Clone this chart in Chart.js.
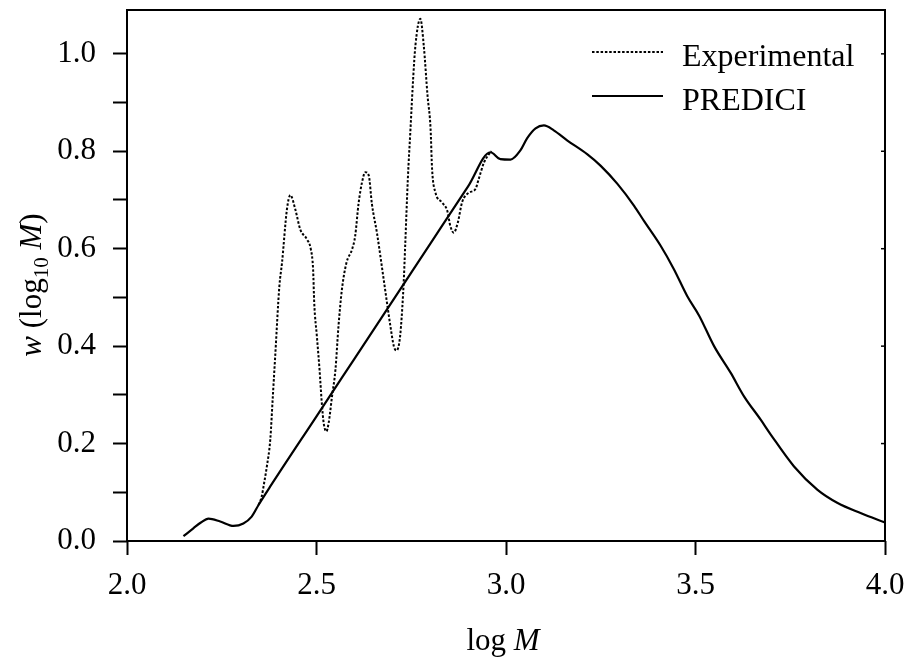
<!DOCTYPE html>
<html>
<head>
<meta charset="utf-8">
<script src="https://cdn.jsdelivr.net/npm/chart.js@4.4.0/dist/chart.umd.min.js"></script>
<style>
  body { margin: 0; background: #fff; }
</style>
</head>
<body>
<canvas id="gpc_chart" width="908" height="659"></canvas>
<script>
// PREDICI simulation (log M vs w)
const prediciLogM = [2.149, 2.175, 2.195, 2.215, 2.246, 2.281, 2.307, 2.329, 2.347, 2.378,
    2.50, 2.60, 2.70, 2.80, 2.90, 2.959, 2.985, 3.012, 3.038, 3.056, 3.078, 3.100, 3.126,
    3.162, 3.214, 3.250, 3.294, 3.338, 3.364, 3.408, 3.443, 3.478, 3.510, 3.549, 3.593,
    3.628, 3.672, 3.699, 3.760, 3.822, 3.875, 3.937, 4.0];
const prediciW = [0.010, 0.026, 0.038, 0.046, 0.040, 0.031, 0.036, 0.050, 0.074, 0.112,
    0.256, 0.374, 0.492, 0.610, 0.728, 0.798, 0.784, 0.783, 0.802, 0.827, 0.847, 0.853, 0.843,
    0.822, 0.794, 0.770, 0.733, 0.688, 0.657, 0.606, 0.558, 0.503, 0.462, 0.400, 0.345,
    0.297, 0.249, 0.218, 0.153, 0.105, 0.078, 0.057, 0.038];

// experimental GPC trace (only where it leaves the PREDICI curve)
const expLogM = [2.347, 2.355, 2.362, 2.369, 2.378, 2.385, 2.391, 2.402, 2.409, 2.422, 2.431,
    2.444, 2.457, 2.475, 2.485, 2.491, 2.494, 2.501, 2.508, 2.514, 2.519, 2.526, 2.532, 2.541,
    2.550, 2.558, 2.567, 2.579, 2.594, 2.602, 2.611, 2.620, 2.629, 2.638, 2.646, 2.660, 2.676,
    2.686, 2.695, 2.704, 2.711, 2.718, 2.723, 2.730, 2.734, 2.741, 2.748, 2.755, 2.761, 2.774,
    2.783, 2.793, 2.801, 2.805, 2.814, 2.831, 2.845, 2.853, 2.862, 2.873, 2.884, 2.902, 2.919,
    2.928, 2.942, 2.955, 2.962];
const expW = [0.074, 0.090, 0.120, 0.153, 0.208, 0.300, 0.379, 0.523, 0.571, 0.681, 0.710,
    0.681, 0.640, 0.619, 0.599, 0.558, 0.489, 0.420, 0.352, 0.283, 0.242, 0.225, 0.242, 0.297,
    0.352, 0.441, 0.516, 0.571, 0.599, 0.626, 0.693, 0.736, 0.757, 0.750, 0.693, 0.630, 0.544,
    0.489, 0.441, 0.400, 0.391, 0.405, 0.441, 0.530, 0.606, 0.743, 0.846, 0.949, 1.017, 1.072,
    1.017, 0.914, 0.846, 0.763, 0.715, 0.695, 0.678, 0.647, 0.633, 0.654, 0.695, 0.715, 0.722,
    0.743, 0.777, 0.794, 0.800];

const xTicks = [2.0, 2.5, 3.0, 3.5, 4.0];
const seriesNames = ['Experimental', 'PREDICI'];

const serif = '"Liberation Serif", "Times New Roman", serif';

function pairs(xs, ys) {
    return xs.map((x, i) => ({ x: x, y: ys[i] }));
}

// frame, inner right ticks, axis titles and legend
const decorations = {
    id: 'decorations',
    afterDraw(chart) {
        const ctx = chart.ctx;
        const a = chart.chartArea;
        const ys = chart.scales.y;
        ctx.save();
        ctx.strokeStyle = '#000';
        ctx.lineWidth = 2;
        ctx.setLineDash([]);
        ctx.strokeRect(a.left, a.top, a.right - a.left, a.bottom - a.top);

        // little inward ticks on the right edge
        ctx.lineWidth = 1.5;
        for (let v = 0; v <= 1.0001; v += 0.2) {
            const py = ys.getPixelForValue(v);
            ctx.beginPath();
            ctx.moveTo(a.right, py);
            ctx.lineTo(a.right - 4, py);
            ctx.stroke();
        }

        ctx.fillStyle = '#000';
        ctx.textBaseline = 'alphabetic';

        // x title: log M
        const f = 31;
        ctx.font = f + 'px ' + serif;
        const w1 = ctx.measureText('log ').width;
        ctx.font = 'italic ' + f + 'px ' + serif;
        const w2 = ctx.measureText('M').width;
        let x0 = 503 - (w1 + w2) / 2;
        ctx.font = f + 'px ' + serif;
        ctx.fillText('log ', x0, 650);
        ctx.font = 'italic ' + f + 'px ' + serif;
        ctx.fillText('M', x0 + w1, 650);

        // y title: w (log10 M)
        const parts = [
            { t: 'w', font: 'italic ' + f + 'px ' + serif, dy: 0 },
            { t: ' (log', font: f + 'px ' + serif, dy: 0 },
            { t: '10', font: Math.round(f * 0.68) + 'px ' + serif, dy: 7 },
            { t: ' ', font: f + 'px ' + serif, dy: 0 },
            { t: 'M', font: 'italic ' + f + 'px ' + serif, dy: 0 },
            { t: ')', font: f + 'px ' + serif, dy: 0 }
        ];
        let total = 0;
        parts.forEach(p => { ctx.font = p.font; p.w = ctx.measureText(p.t).width; total += p.w; });
        ctx.translate(41, 285);
        ctx.rotate(-Math.PI / 2);
        let cx = -total / 2;
        parts.forEach(p => {
            ctx.font = p.font;
            ctx.fillText(p.t, cx, p.dy);
            cx += p.w;
        });
        ctx.setTransform(1, 0, 0, 1, 0, 0);

        // legend
        ctx.font = '32px ' + serif;
        ctx.lineWidth = 2;
        ctx.setLineDash([2.5, 1.8]);
        ctx.beginPath();
        ctx.moveTo(592, 52);
        ctx.lineTo(663, 52);
        ctx.stroke();
        ctx.fillText(seriesNames[0], 682, 66);
        ctx.lineWidth = 2.2;
        ctx.setLineDash([]);
        ctx.beginPath();
        ctx.moveTo(592, 96);
        ctx.lineTo(663, 96);
        ctx.stroke();
        ctx.fillText(seriesNames[1], 682, 110);
        ctx.restore();
    }
};

new Chart(document.getElementById('gpc_chart'), {
    type: 'line',
    data: {
        datasets: [{
            label: seriesNames[0],
            data: pairs(expLogM, expW),
            borderColor: '#000',
            borderWidth: 2,
            borderDash: [2.5, 1.8],
            pointRadius: 0,
            cubicInterpolationMode: 'monotone',
            fill: false,
            order: 2
        }, {
            label: seriesNames[1],
            data: pairs(prediciLogM, prediciW),
            borderColor: '#000',
            borderWidth: 2.2,
            pointRadius: 0,
            cubicInterpolationMode: 'monotone',
            fill: false,
            order: 1
        }]
    },
    options: {
        responsive: false,
        animation: false,
        layout: {
            padding: { top: 10, right: 23, left: 0, bottom: 0 }
        },
        plugins: {
            legend: { display: false },
            tooltip: { enabled: false }
        },
        scales: {
            x: {
                type: 'linear',
                min: 2.0,
                max: 4.0,
                afterFit: s => { s.height = 118; s.paddingLeft = 0; s.paddingRight = 0; },
                afterBuildTicks: s => { s.ticks = xTicks.map(v => ({ value: v })); },
                border: { display: false },
                grid: {
                    drawOnChartArea: false,
                    tickLength: 14,
                    tickColor: '#000',
                    tickWidth: 2
                },
                ticks: {
                    color: '#000',
                    padding: 12,
                    maxRotation: 0,
                    font: { family: serif, size: 31 },
                    callback: v => v.toFixed(1)
                }
            },
            y: {
                min: 0,
                max: 1.09,
                afterFit: s => { s.width = 127; s.paddingTop = 0; s.paddingBottom = 0; },
                border: { display: false },
                grid: {
                    drawOnChartArea: false,
                    tickLength: 14,
                    tickColor: '#000',
                    tickWidth: 2
                },
                ticks: {
                    stepSize: 0.1,
                    includeBounds: false,
                    color: '#000',
                    padding: 17,
                    font: { family: serif, size: 31 },
                    callback: v => (Math.round(v * 10) % 2 === 0 ? v.toFixed(1) : '')
                }
            }
        }
    },
    plugins: [decorations]
});
</script>
</body>
</html>
